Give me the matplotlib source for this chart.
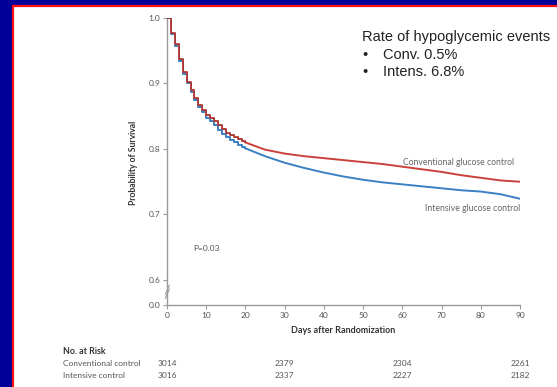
import matplotlib
matplotlib.use("Agg")
import matplotlib.pyplot as plt
from matplotlib.patches import Rectangle
import matplotlib.transforms as mtransforms

# ---------------- data ----------------
early_days = [0, 1, 2, 3, 4, 5, 6, 7, 8, 9, 10, 11, 12, 13, 14, 15, 16, 17, 18, 19, 20]
conv_early = [1.0, 0.977, 0.961, 0.938, 0.918, 0.903, 0.890, 0.878, 0.867, 0.860, 0.852,
              0.847, 0.843, 0.836, 0.830, 0.825, 0.821, 0.818, 0.815, 0.812, 0.810]
int_early = [1.0, 0.975, 0.958, 0.935, 0.915, 0.900, 0.887, 0.875, 0.864, 0.856, 0.848,
             0.842, 0.837, 0.829, 0.823, 0.818, 0.814, 0.810, 0.806, 0.803, 0.801]

late_days = [20, 25, 30, 35, 40, 45, 50, 55, 60, 65, 70, 75, 80, 85, 90]
conv_late = [0.810, 0.799, 0.793, 0.789, 0.786, 0.783, 0.780, 0.777, 0.773, 0.769,
             0.765, 0.760, 0.756, 0.752, 0.750]
int_late = [0.801, 0.789, 0.779, 0.771, 0.764, 0.758, 0.753, 0.749, 0.746, 0.743,
            0.740, 0.737, 0.735, 0.731, 0.724]

x_ticks = [0, 10, 20, 30, 40, 50, 60, 70, 80, 90]
y_ticks = [0.5618, 0.6, 0.7, 0.8, 0.9, 1.0]
y_tick_labels = ["0.0", "0.6", "0.7", "0.8", "0.9", "1.0"]

risk_days = [0, 30, 60, 90]
conv_risk = [3014, 2379, 2304, 2261]
int_risk = [3016, 2337, 2227, 2182]

# ---------------- figure ----------------
W, H = 557, 387
fig = plt.figure(figsize=(W / 100, H / 100), dpi=100, facecolor="#000099")

def fx(x):
    return x / W

def fy(y):
    return 1 - y / H

# white panel with red border
fig.patches.append(Rectangle((fx(13.5), -0.05), 1.2, fy(6) + 0.05, transform=fig.transFigure,
                             facecolor="white", edgecolor="#ff1010", linewidth=1.6, zorder=-5))

ax = fig.add_axes([fx(167), fy(305), fx(520) - fx(167), fy(18) - fy(305)])
ax.set_facecolor("none")
ax.set_zorder(2)

red = "#c9413b"
blue = "#3a80c2"
ax.step(early_days, int_early, where="post", color=blue, lw=1.4, zorder=3)
ax.plot(late_days, int_late, color=blue, lw=1.4, zorder=3)
ax.step(early_days, conv_early, where="post", color=red, lw=1.4, zorder=4)
ax.plot(late_days, conv_late, color=red, lw=1.4, zorder=4)
# darker outline on early overlapping staircase
ax.step(early_days, conv_early, where="post", color="#5a3a40", lw=0.5, zorder=5, alpha=0.6)

ax.set_xlim(0, 90)
ax.set_ylim(0.5618, 1.0)
ax.set_xticks(x_ticks)
ax.set_yticks(y_ticks)
ax.set_yticklabels(y_tick_labels)
for s in ["top", "right"]:
    ax.spines[s].set_visible(False)
for s in ["left", "bottom"]:
    ax.spines[s].set_color("#9a9a9a")
    ax.spines[s].set_linewidth(1.0)
ax.tick_params(axis="both", direction="out", length=3, width=0.8, color="#9a9a9a",
               labelsize=6, labelcolor="#555555", pad=2)
for lab in ax.get_xticklabels() + ax.get_yticklabels():
    lab.set_fontfamily("Lato")

# axis break mark
ax.plot([-0.4, 0.6], [0.572, 0.586], color="#9a9a9a", lw=0.8, clip_on=False)
ax.plot([-0.4, 0.6], [0.578, 0.592], color="#9a9a9a", lw=0.8, clip_on=False)

ax.set_xlabel("Days after Randomization", fontsize=6.5, fontweight="bold",
              color="#333333", fontfamily="Lato", labelpad=5)
fig.text(fx(133), fy(163), "Probability of Survival", rotation=90, ha="center", va="center",
         fontsize=6.2, fontweight="bold", color="#333333", fontfamily="Lato")

ax.text(10, 0.6478, "P=0.03", ha="center", va="center", fontsize=6, color="#555555",
        fontfamily="Lato")
ax.text(88.5, 0.7795, "Conventional glucose control", ha="right", va="center",
        fontsize=6.2, color="#666666", fontfamily="Lato")
ax.text(90, 0.7085, "Intensive glucose control", ha="right", va="center",
        fontsize=6.2, color="#666666", fontfamily="Lato")

# number at risk table
bt = mtransforms.blended_transform_factory(ax.transData, fig.transFigure)
fig.text(fx(63), fy(352), "No. at Risk", ha="left", va="center", fontsize=6.3,
         fontweight="bold", color="#333333", fontfamily="Lato")
fig.text(fx(63), fy(364), "Conventional control", ha="left", va="center", fontsize=6,
         color="#555555", fontfamily="Lato")
fig.text(fx(63), fy(375), "Intensive control", ha="left", va="center", fontsize=6,
         color="#555555", fontfamily="Lato")
for d, c, i in zip(risk_days, conv_risk, int_risk):
    ax.text(d, fy(364), str(c), transform=bt, ha="center", va="center", fontsize=6,
            color="#555555", fontfamily="Lato")
    ax.text(d, fy(375), str(i), transform=bt, ha="center", va="center", fontsize=6,
            color="#555555", fontfamily="Lato")

# annotation
fig.text(fx(362), fy(37), "Rate of hypoglycemic events", ha="left", va="center",
         fontsize=10.5, color="#222222", fontfamily="Liberation Sans")
fig.text(fx(362), fy(55), "\u2022", ha="left", va="center", fontsize=10.5, color="#222222",
         fontfamily="Liberation Sans")
fig.text(fx(383), fy(55), "Conv. 0.5%", ha="left", va="center", fontsize=10.5,
         color="#222222", fontfamily="Liberation Sans")
fig.text(fx(362), fy(72), "\u2022", ha="left", va="center", fontsize=10.5, color="#222222",
         fontfamily="Liberation Sans")
fig.text(fx(383), fy(72), "Intens. 6.8%", ha="left", va="center", fontsize=10.5,
         color="#222222", fontfamily="Liberation Sans")

fig.savefig("out.png", dpi=100, facecolor=fig.get_facecolor())
